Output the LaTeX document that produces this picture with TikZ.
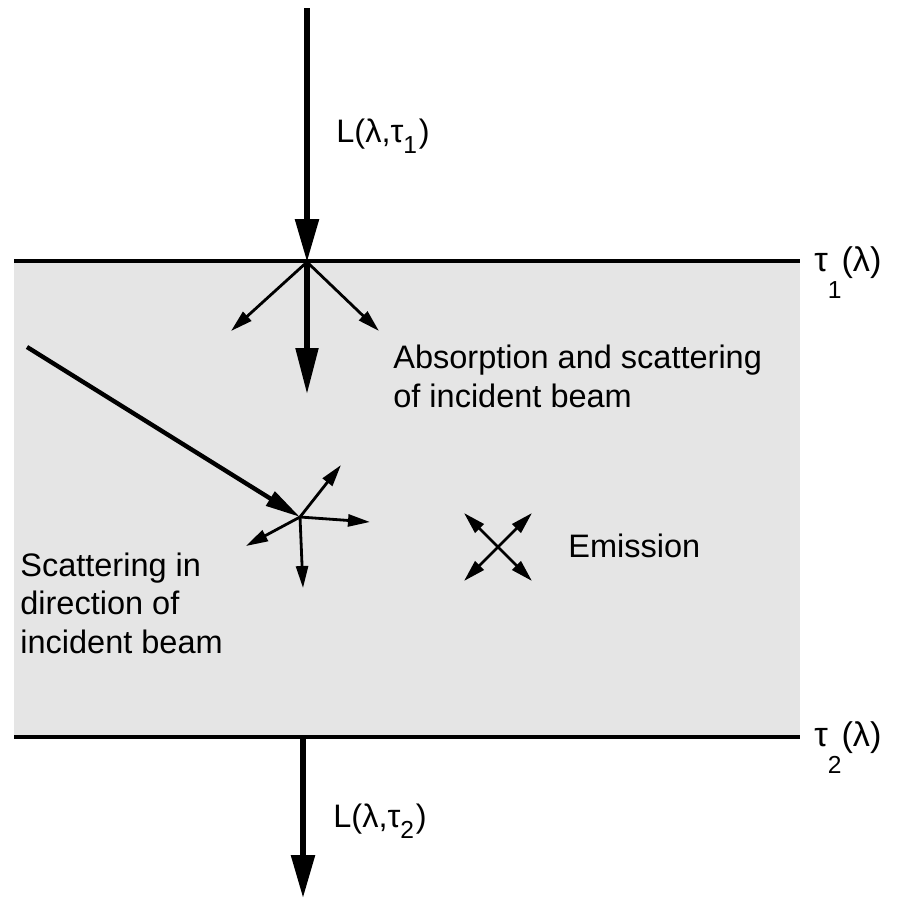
\documentclass[tikz,border=0pt]{standalone}
\usepackage{fontspec}
\setmainfont{Liberation Sans}
\usetikzlibrary{arrows.meta}
\newcommand{\lowsub}[2]{#1\raisebox{-#2}{\fontsize{14}{14}\selectfont 1}}
\newcommand{\lowsubt}[2]{#1\raisebox{-#2}{\fontsize{14}{14}\selectfont 2}}
\tikzset{
    layer/.style={line width=2.8pt, draw=black},
    slab/.style={fill=black!10, draw=none},
    beam/.style={line width=3.2pt, -{Triangle[length=0.86cm, width=0.46cm]}},
    inbeam/.style={line width=2.9pt, -{Triangle[length=0.92cm, width=0.44cm]}},
    obbeam/.style={line width=2.5pt, -{Triangle[length=0.7cm, width=0.32cm]}},
    ray/.style={line width=1.6pt, -{Triangle[length=0.44cm, width=0.24cm]}},
    lbl/.style={anchor=base west, inner sep=0pt, align=left,
                font=\fontsize{18.5}{21.8}\selectfont},
    tlbl/.style={lbl, font=\fontsize{19.5}{22}\selectfont}
}

\begin{document}
\begin{tikzpicture}[x=0.02cm, y=-0.02cm]
\useasboundingbox (0,0) rectangle (897,900);

% ── Layer between tau_1 and tau_2 ─────────────────────────────────────
\fill[slab] (14,261) rectangle (800,737);
\draw[layer] (14,261) -- (800,261);
\draw[layer] (14,737) -- (800,737);

% ── Points ────────────────────────────────────────────────────────────
\coordinate (src)  at (307,8);
\coordinate (hit)  at (307,262);
\coordinate (pass) at (307,394);
\coordinate (sl)   at (231,331);
\coordinate (sr)   at (379,331);
\coordinate (obl)  at (27,347);
\coordinate (sc)   at (300,517);
\coordinate (sc1)  at (341,465);
\coordinate (sc2)  at (370,522);
\coordinate (sc3)  at (246,546);
\coordinate (sc4)  at (303,588);
\coordinate (em)   at (498,547);
\coordinate (em1)  at (464,513);
\coordinate (em2)  at (532,513);
\coordinate (em3)  at (464,581);
\coordinate (em4)  at (532,581);
\coordinate (exit) at (303,737);
\coordinate (out)  at (303,898);

% ── Beams ─────────────────────────────────────────────────────────────
\draw[beam]   (src) -- (hit);
\draw[inbeam] (hit) -- (pass);
\draw[ray]    (hit) -- (sl);
\draw[ray]    (hit) -- (sr);
\draw[obbeam] (obl) -- (sc);
\draw[ray]    (sc) -- (sc1);
\draw[ray]    (sc) -- (sc2);
\draw[ray]    (sc) -- (sc3);
\draw[ray]    (sc) -- (sc4);
\draw[ray]    (em) -- (em1);
\draw[ray]    (em) -- (em2);
\draw[ray]    (em) -- (em3);
\draw[ray]    (em) -- (em4);
\draw[beam]   (exit) -- (out);

% ── Labels ────────────────────────────────────────────────────────────
\node[lbl]  (Lin)  at (336,142) {L(λ,\lowsub{τ}{0.35em}\kern1pt)};
\node[lbl]  (Lout) at (333,827) {L(λ,\lowsubt{τ}{0.35em}\kern1pt)};
\node[tlbl] (t1)   at (814,271) {\lowsub{τ}{0.8em}(λ)};
\node[tlbl] (t2)   at (814,746) {\lowsubt{τ}{0.8em}(λ)};
\node[lbl]  (abs)  at (393,407) {Absorption and scattering\\of incident beam};
\node[lbl]  (scat) at (20,653)  {Scattering in\\direction of\\incident beam};
\node[lbl]  (emi)  at (568,557) {Emission};
\end{tikzpicture}
\end{document}
